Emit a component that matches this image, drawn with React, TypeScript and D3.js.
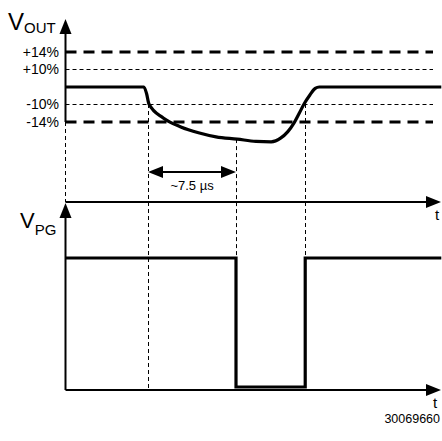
import React from "react";
import * as d3 from "d3";

// Threshold levels (percent deviation of VOUT)
const levelLabels = ["+14%", "+10%", "-10%", "-14%"];
const levelValues = [14, 10, -10, -14];
const levelHeavy = [true, false, false, true];

// VOUT trace: time (µs) and deviation (%)
const voutTime = [-7, -0.35, -0.12, 0.08, 1.3, 2.8, 4.3, 5.8, 7.6, 9.2, 10.5, 11.3, 11.9, 12.45, 12.9, 13.3, 13.8, 14.25, 14.6, 25];
const voutPct = [0, 0, -4, -10, -13.1, -15.1, -16.4, -17.3, -17.8, -18.3, -18.4, -17.6, -16.2, -14.2, -12.0, -10, -4.7, -0.8, 0, 0];

// VPG trace: time (µs) and logic state
const vpgTime = [-7, 7.5, 7.5, 13.4, 13.4, 25];
const vpgState = [1, 1, 0, 0, 1, 1];

// Marker times (dashed verticals)
const markerTimes = [0, 7.5, 13.4];
const markerTopPct = [-10, -17.8, -10];

const FONT = "'Liberation Sans', Arial, Helvetica, sans-serif";

const px = (v: number) => Math.round(v) + 0.5;

export default function App() {
  const W = 442, H = 441;
  const x = d3.scaleLinear().domain([-7, 25]).range([65.9, 441.3]);
  const yV = d3.scaleLinear().domain([-14, -10, 0, 10, 14]).range([122, 104, 87, 69, 52]);
  const yPG = d3.scaleLinear().domain([0, 1]).range([387, 258]);
  const axisX = 65.5;
  const topAxisY = 202;
  const botAxisY = 390;
  const xEnd = 441;

  const voutPts: [number, number][] = voutTime.map((t, i) => [t, voutPct[i]]);
  const voutLine = d3.line<[number, number]>()
    .x(d => x(d[0]))
    .y(d => yV(d[1]))
    .curve(d3.curveMonotoneX);
  const vpgPts: [number, number][] = vpgTime.map((t, i) => [t, vpgState[i]]);
  const vpgLine = d3.line<[number, number]>()
    .x(d => x(d[0]))
    .y(d => yPG(d[1]));

  const arrowRight = (tx: number, ty: number) =>
    `M${tx},${ty} L${tx - 15},${ty - 6} L${tx - 15},${ty + 6} Z`;
  const arrowUp = (tx: number, ty: number) =>
    `M${tx},${ty} L${tx - 6},${ty + 15} L${tx + 6},${ty + 15} Z`;
  const arrowLeft = (tx: number, ty: number) =>
    `M${tx},${ty} L${tx + 15},${ty - 6} L${tx + 15},${ty + 6} Z`;

  const a0 = x(markerTimes[0]);
  const a1 = x(markerTimes[1]);
  const arrowY = 172;

  return (
    <svg width={W} height={H} style={{ position: "absolute", left: 0, top: 0, background: "#fff" }}
      fontFamily={FONT}>
      <rect width={W} height={H} fill="#fff" />
      {/* threshold lines */}
      {levelValues.map((v, i) => (
        <g key={i}>
          <line x1={axisX} x2={433} y1={levelHeavy[i] ? yV(v) : px(yV(v))} y2={levelHeavy[i] ? yV(v) : px(yV(v))} stroke="#000"
            strokeWidth={levelHeavy[i] ? 2.8 : 1}
            strokeDasharray={levelHeavy[i] ? "11,7" : "4,3"} />
          <text x={59} y={yV(v) + 5} fontSize={14} textAnchor="end">{levelLabels[i]}</text>
        </g>
      ))}
      {/* dashed vertical markers */}
      {markerTimes.map((t, i) => (
        <line key={i} x1={px(x(t))} x2={px(x(t))} y1={yV(markerTopPct[i])} y2={i === 0 ? botAxisY : yPG(1)}
          stroke="#000" strokeWidth={1} strokeDasharray="4,3" />
      ))}

      {/* VOUT axis */}
      <line x1={axisX} x2={axisX} y1={30} y2={yV(-14)} stroke="#000" strokeWidth={2} />
      <line x1={axisX} x2={axisX} y1={yV(-14)} y2={topAxisY} stroke="#000" strokeWidth={1} strokeDasharray="4,3" />
      <path d={arrowUp(axisX, 19)} fill="#000" />
      <line x1={axisX} x2={xEnd - 10} y1={topAxisY} y2={topAxisY} stroke="#000" strokeWidth={1.8} />
      <path d={arrowRight(xEnd, topAxisY)} fill="#000" />
      <text x={435} y={220} fontSize={15}>t</text>

      {/* VPG axis */}
      <line x1={axisX} x2={axisX} y1={212} y2={botAxisY} stroke="#000" strokeWidth={2} />
      <path d={arrowUp(axisX, 203)} fill="#000" />
      <line x1={axisX} x2={xEnd - 10} y1={botAxisY} y2={botAxisY} stroke="#000" strokeWidth={1.8} />
      <path d={arrowRight(xEnd, botAxisY)} fill="#000" />
      <text x={433} y={408} fontSize={15}>t</text>

      {/* traces */}
      <path d={voutLine(voutPts) ?? ""} fill="none" stroke="#000" strokeWidth={3.2} strokeLinejoin="round" />
      <path d={vpgLine(vpgPts) ?? ""} fill="none" stroke="#000" strokeWidth={3.2} strokeLinejoin="miter" />

      {/* 7.5 µs dimension */}
      <line x1={a0 + 10} x2={a1 - 10} y1={arrowY} y2={arrowY} stroke="#000" strokeWidth={1.8} />
      <path d={arrowLeft(a0, arrowY)} fill="#000" />
      <path d={arrowRight(a1, arrowY)} fill="#000" />
      <text x={(a0 + a1) / 2} y={190} fontSize={13} textAnchor="middle">~7.5 µs</text>

      {/* axis titles */}
      <text x={8} y={30} fontSize={24}>V<tspan fontSize={15} dy={3}>OUT</tspan></text>
      <text x={20} y={228} fontSize={22}>V<tspan fontSize={15} dy={7}>PG</tspan></text>

      <text x={440} y={423} fontSize={12.5} textAnchor="end">30069660</text>
    </svg>
  );
}
